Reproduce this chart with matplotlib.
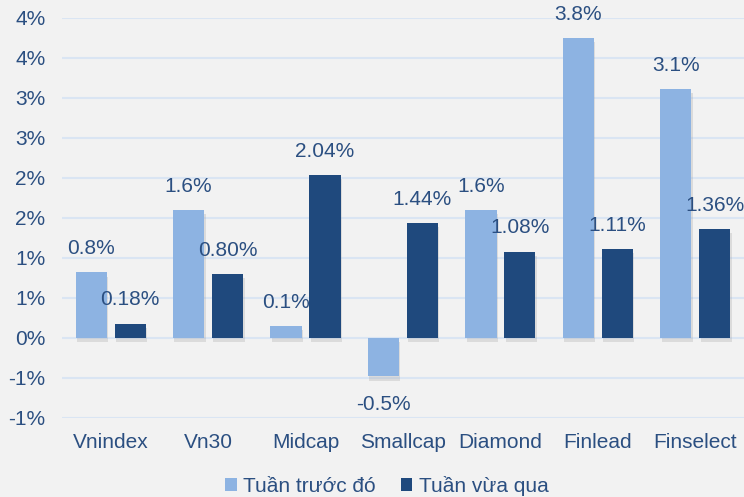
import numpy as np
import matplotlib.pyplot as plt
import matplotlib.patheffects as pe

categories = ["Vnindex", "Vn30", "Midcap", "Smallcap", "Diamond", "Finlead", "Finselect"]
prev_week = [0.82, 1.6, 0.15, -0.48, 1.6, 3.75, 3.11]
last_week = [0.18, 0.80, 2.04, 1.44, 1.08, 1.11, 1.36]
prev_labels = ["0.8%", "1.6%", "0.1%", "-0.5%", "1.6%", "3.8%", "3.1%"]
last_labels = ["0.18%", "0.80%", "2.04%", "1.44%", "1.08%", "1.11%", "1.36%"]
ytick_vals = [-1, -0.5, 0, 0.5, 1, 1.5, 2, 2.5, 3, 3.5, 4]
ytick_labels = ["-1%", "-1%", "0%", "1%", "1%", "2%", "2%", "3%", "3%", "4%", "4%"]

plt.rcParams['font.family'] = ['Liberation Sans', 'DejaVu Sans']
bg = '#f2f2f2'
txt = '#2b4f81'
light = '#8db3e2'
dark = '#1f497d'

fig = plt.figure(figsize=(7.44, 4.97), dpi=100, facecolor=bg)
ax = fig.add_axes([0.0833, 0.159, 0.9167, 0.8048], facecolor=bg)

x = np.arange(len(categories))
w = 0.32
b1 = ax.bar(x - 0.2, prev_week, w, color=light, label='Tuần trước đó', zorder=3)
b2 = ax.bar(x + 0.2, last_week, w, color=dark, label='Tuần vừa qua', zorder=3)

for xi, v, s in zip(x - 0.2, prev_week, prev_labels):
    off = 17 if v >= 0 else -20
    ax.annotate(s, (xi, v), xytext=(0, off), textcoords='offset points',
                ha='center', va='center', fontsize=15, color=txt)
for xi, v, s in zip(x + 0.2, last_week, last_labels):
    ax.annotate(s, (xi, v), xytext=(0, 17), textcoords='offset points',
                ha='center', va='center', fontsize=15, color=txt)

ax.set_xlim(-0.5, len(categories) - 0.5)
ax.set_ylim(-1, 4)
ax.set_yticks(ytick_vals)
ax.set_yticklabels(ytick_labels)
ax.set_xticks(x)
ax.set_xticklabels(categories)
ax.tick_params(length=0, labelsize=15, colors=txt, pad=11)
ax.tick_params(axis='y', pad=12)
ax.grid(axis='y', color='#dae5f3', linewidth=1.5, zorder=0)
ax.set_axisbelow(True)
for sp in ax.spines.values():
    sp.set_visible(False)

fig.legend(loc='lower center', bbox_to_anchor=(0.52, -0.035), ncol=2, frameon=False,
           fontsize=15, labelcolor=txt, handlelength=0.55, handleheight=0.55,
           handletextpad=0.3, columnspacing=1.2)

# soft shadow under the bars (set after legend so handles stay clean)
shadow = [pe.SimplePatchShadow(offset=(1, -3), shadow_rgbFace='#999999', alpha=0.25), pe.Normal()]
for b in list(b1) + list(b2):
    b.set_path_effects(shadow)

fig.savefig("out.png", facecolor=bg)
